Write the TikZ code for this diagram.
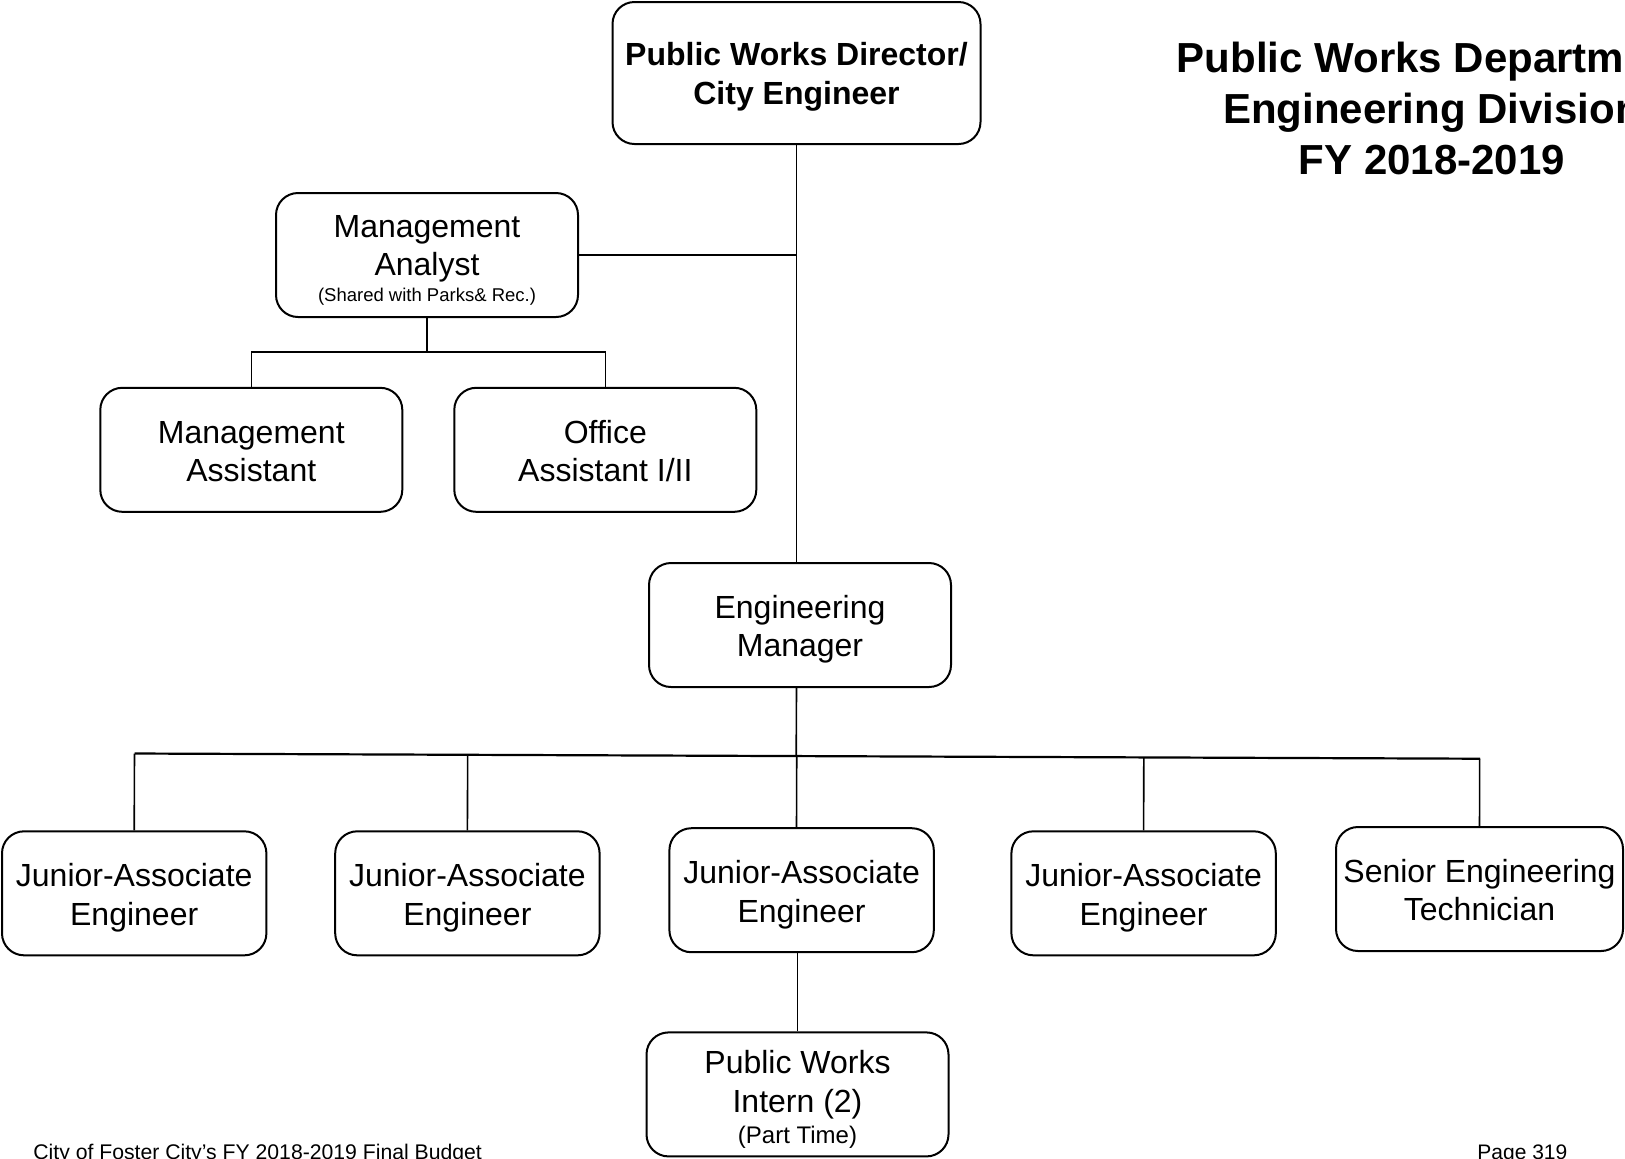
\documentclass[tikz,border=0pt]{standalone}
\usepackage{fontspec}
\setmainfont{Liberation Sans}
\usetikzlibrary{calc}

\begin{document}
\begin{tikzpicture}[x=0.5pt, y=-0.5pt,
  cargo/.style={draw=borda, line width=1pt, rounded corners=11pt, align=center, inner sep=0pt,
    minimum width=151pt, minimum height=62pt, text height=31.8pt, text depth=0pt, font=\fontsize{16}{19.2}\selectfont},
  ligacao/.style={draw=borda, line width=0.8pt}]
% --- ORGANOGRAMA: ENGINEERING DIVISION ---
\definecolor{borda}{HTML}{000000}
\definecolor{texto}{HTML}{000000}

% LAYER 0: Pagina
\useasboundingbox (0,0) rectangle (1625,1158);
\clip (0,0) rectangle (1625,1158);

% LAYER 1: Titulo e rodape
\node[font=\bfseries\fontsize{21}{25.5}\selectfont, align=center, text=texto] (titulo) at (1432,108.5) {Public Works Department\\Engineering Division\\FY 2018-2019};
\node[font=\fontsize{10.6}{12}\selectfont, anchor=base west, inner sep=0pt] (rodape) at (33,1159) {City of Foster City's FY 2018-2019 Final Budget};
\node[font=\fontsize{10.5}{12}\selectfont, anchor=base west, inner sep=0pt] (pagina) at (1477,1159) {Page 319};

% LAYER 2: Direcao e apoio
\node[cargo, minimum width=184pt, minimum height=71pt, font=\bfseries\fontsize{16}{19.8}\selectfont] (diretor) at (796.5,73) {Public Works Director/\\City Engineer};
\node[cargo, text height=46.4pt] (analista) at (427,255) {Management\\Analyst\\[-6.4pt]{\fontsize{9.25}{11}\selectfont (Shared with Parks\& Rec.)}};
\node[cargo] (assistente) at (251.3,449.8) {Management\\Assistant};
\node[cargo] (escritorio) at (605.3,449.8) {Office\\Assistant I/II};

% LAYER 3: Engenharia
\node[cargo] (gerente) at (800,625) {Engineering\\Manager};
\node[cargo, minimum width=132.2pt] (eng1) at (134.2,893.3) {Junior-Associate\\Engineer};
\node[cargo, minimum width=132.2pt] (eng2) at (467.4,893.3) {Junior-Associate\\Engineer};
\node[cargo, minimum width=132.2pt] (eng3) at (801.6,890.2) {Junior-Associate\\Engineer};
\node[cargo, minimum width=132.2pt] (eng4) at (1143.6,893.3) {Junior-Associate\\Engineer};
\node[cargo, minimum width=143.5pt] (tecnico) at (1479.5,889) {Senior Engineering\\Technician};
\node[cargo, text height=48.6pt] (estagiario) at (797.5,1094.4) {Public Works\\Intern (2)\\[-3.75pt]{\fontsize{12}{14}\selectfont (Part Time)}};

% LAYER 4: Ligacoes
\draw[ligacao] (diretor.south) -- (diretor.south |- gerente.north);
\draw[ligacao] (analista.east) -- (analista.east -| diretor.south);
\coordinate (nAnalista) at (427,352);
\draw[ligacao] (analista.south) -- (nAnalista);
\draw[ligacao] (assistente.north) |- (nAnalista) -| (escritorio.north);

\coordinate (barraE) at (134.7,753.5);
\coordinate (barraD) at (1480,758.7);
\draw[ligacao, line width=1.1pt] (barraE) -- (barraD);
\draw[ligacao] (gerente.south -| diretor.south) -- ($(barraE)!(gerente.south -| diretor.south)!(barraD)$);
\foreach \n in {eng1, eng2, eng4, tecnico}
  \draw[ligacao] (\n.north) -- ($(barraE)!(\n.north)!(barraD)$);
\draw[ligacao] (eng3.north -| diretor.south) -- ($(barraE)!(eng3.north -| diretor.south)!(barraD)$);
\draw[ligacao] (estagiario.north) -- (estagiario.north |- eng3.south);
\end{tikzpicture}
\end{document}
